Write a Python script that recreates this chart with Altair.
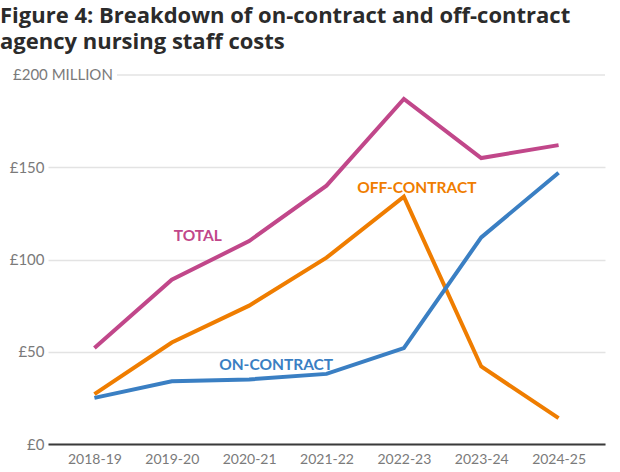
import altair as alt
import pandas as pd

years = ["2018-19", "2019-20", "2020-21", "2021-22", "2022-23", "2023-24", "2024-25"]
total = [52, 89, 110, 140, 187, 155, 162]
off_contract = [27, 55, 75, 101, 134, 42, 14]
on_contract = [25, 34, 35, 38, 52, 112, 147]

series_names = ["TOTAL", "OFF-CONTRACT", "ON-CONTRACT"]
series_colors = ["#c1478a", "#ef7d00", "#3a7fc3"]

rows = []
for name, vals in zip(series_names, [total, off_contract, on_contract]):
    for y, v in zip(years, vals):
        rows.append({"year": y, "series": name, "value": v})
df = pd.DataFrame(rows)

# label anchor points (year, value) for each series name
label_df = pd.DataFrame({
    "series": series_names,
    "year": ["2019-20", "2022-23", "2020-21"],
    "value": [113, 139, 43],
    "dx": [26, 13, 27],
})

FONT = "Lato"
W, H = 557, 369

x_enc = alt.X("year:N", sort=years, scale=alt.Scale(type="point", padding=0.6),
              axis=alt.Axis(title=None, labelAngle=0, labelColor="#7a7a7a", labelFontSize=14,
                            labelFont=FONT, ticks=False, domainColor="#3a3a3a", domainWidth=2,
                            labelPadding=8, grid=False))
y_scale = alt.Scale(domain=[0, 200], nice=False)

base = alt.Chart(df)

lines = base.mark_line(strokeWidth=4, strokeJoin="miter").encode(
    x=x_enc,
    y=alt.Y("value:Q", scale=y_scale,
            axis=alt.Axis(title=None, values=[0, 50, 100, 150], labelExpr="'£' + datum.value",
                          labelColor="#7a7a7a", labelFontSize=15, labelFont=FONT, ticks=False,
                          domain=False, gridColor="#e3e3e3", gridWidth=1.5, labelPadding=4)),
    color=alt.Color("series:N", scale=alt.Scale(domain=series_names, range=series_colors), legend=None),
    detail="series:N",
)

top_rule = alt.Chart(pd.DataFrame({"v": [200]})).mark_rule(color="#e3e3e3", strokeWidth=1.5).encode(
    y=alt.Y("v:Q", scale=y_scale), x=alt.value(69), x2=alt.value(W)
)
top_label = alt.Chart(pd.DataFrame({"v": [200], "t": ["£200 MILLION"]})).mark_text(
    align="left", baseline="middle", fontSize=15, font=FONT, color="#7a7a7a"
).encode(y=alt.Y("v:Q", scale=y_scale), x=alt.value(-35), text="t:N")

labels = alt.Chart(label_df).mark_text(
    fontSize=15.5, font=FONT, fontWeight="bold", align="center", baseline="middle"
).encode(
    x=alt.X("year:N", sort=years, scale=alt.Scale(type="point", padding=0.6)),
    y=alt.Y("value:Q", scale=y_scale),
    xOffset=alt.XOffset("dx:Q", scale=None),
    text="series:N",
    color=alt.Color("series:N", scale=alt.Scale(domain=series_names, range=series_colors), legend=None),
)

chart = alt.layer(top_rule, lines, top_label, labels).properties(
    width=W, height=H,
    autosize=alt.AutoSizeParams(type="none"),
    padding={"left": 48, "top": 75, "right": 15, "bottom": 28},
    title=alt.TitleParams(
        text=["Figure 4: Breakdown of on-contract and off-contract", "agency nursing staff costs"],
        anchor="start", frame="group", dx=-48, fontSize=22, font="Open Sans", fontWeight="bold",
        color="#2b2b2b", lineHeight=26, offset=14,
    ),
).configure_view(stroke=None)

chart.save("out.html", embed_options={"renderer": "svg", "actions": False})
